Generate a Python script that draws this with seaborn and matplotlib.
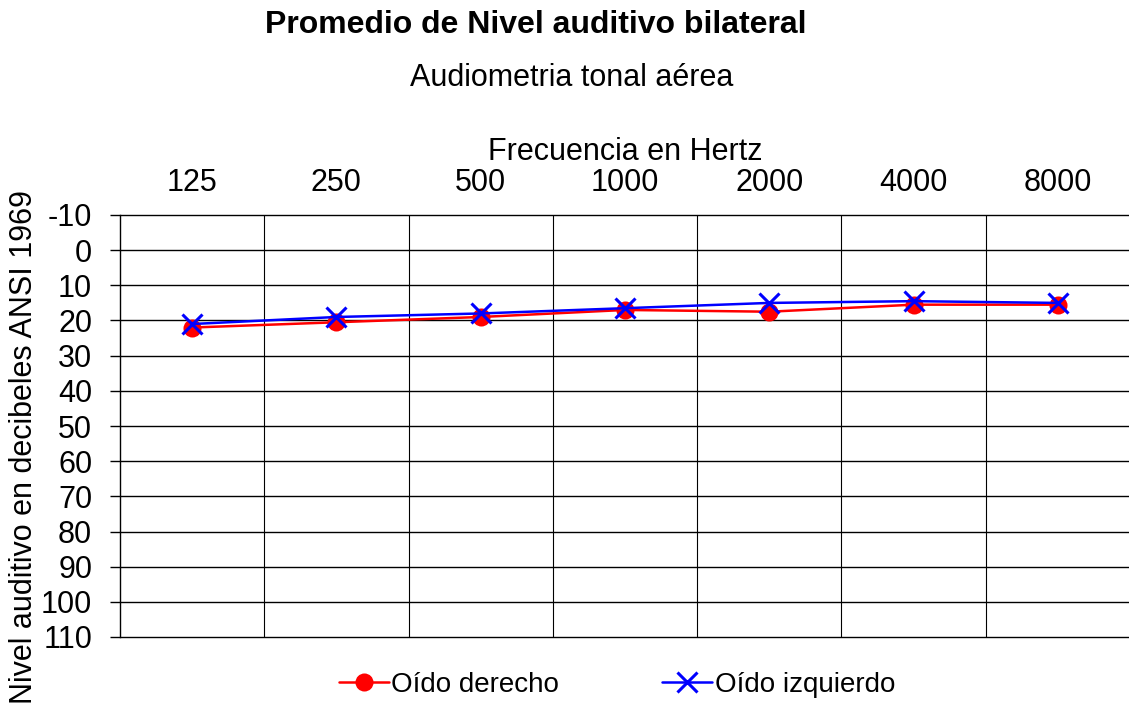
import pandas as pd
import matplotlib.pyplot as plt
import seaborn as sns

# datos
frecuencias = ['125', '250', '500', '1000', '2000', '4000', '8000']
oido_derecho = [22, 20.5, 19, 17, 17.5, 15.5, 15.5]
oido_izquierdo = [21, 19, 18, 16.5, 15, 14.5, 15]
niveles = list(range(-10, 111, 10))

df = pd.DataFrame({'Frecuencia': frecuencias,
                   'Oído derecho': oido_derecho,
                   'Oído izquierdo': oido_izquierdo})

sns.set_style('white')
plt.rcParams['font.family'] = ['Liberation Sans', 'DejaVu Sans']
plt.rcParams['text.color'] = 'black'
plt.rcParams['axes.labelcolor'] = 'black'
plt.rcParams['xtick.color'] = 'black'
plt.rcParams['ytick.color'] = 'black'

fig = plt.figure(figsize=(11.29, 7.04), dpi=100)
ax = fig.add_axes([120 / 1129, 1 - 637 / 704, 1010 / 1129, 422 / 704])

sns.lineplot(data=df, x='Frecuencia', y='Oído derecho', ax=ax, color='#ff0000',
             marker='o', markersize=13, markeredgewidth=0, markeredgecolor='#ff0000',
             linewidth=1.8, label='Oído derecho', sort=False)
sns.lineplot(data=df, x='Frecuencia', y='Oído izquierdo', ax=ax, color='#0000ff',
             marker='x', markersize=14, markeredgewidth=2.2, markeredgecolor='#0000ff',
             linewidth=1.8, label='Oído izquierdo', sort=False)

ax.set_xlim(-0.5, len(frecuencias) - 0.5)
ax.set_ylim(110, -10)
ax.set_yticks(niveles)
ax.set_yticklabels([str(v) for v in niveles], fontsize=22)
ax.set_xticks(range(len(frecuencias)))
ax.set_xticklabels(frecuencias, fontsize=22)
ax.xaxis.tick_top()
ax.xaxis.set_label_position('top')
ax.tick_params(axis='x', length=0, pad=12)
ax.tick_params(axis='y', length=7, width=1, color='black', left=True, pad=13)

# rejilla
for v in niveles:
    ax.axhline(v, color='black', linewidth=1, zorder=0, clip_on=False)
for i in range(len(frecuencias)):
    ax.axvline(i + 0.5, color='black', linewidth=0.8, zorder=0)

for s in ['top', 'right', 'bottom']:
    ax.spines[s].set_visible(False)
ax.spines['left'].set_color('black')
ax.spines['left'].set_linewidth(1)

ax.set_xlabel('Frecuencia en Hertz', fontsize=22, labelpad=6)
ax.set_ylabel('Nivel auditivo en decibeles ANSI 1969', fontsize=22)
ax.yaxis.set_label_coords(-0.08, 0.45)

fig.text(536 / 1129, 1 - 25 / 704, 'Promedio de Nivel auditivo bilateral',
         fontsize=23, fontweight='bold', ha='center', va='center')
fig.text(572 / 1129, 1 - 78 / 704, 'Audiometria tonal aérea',
         fontsize=22, ha='center', va='center')

ax.legend(loc='center', bbox_to_anchor=(617 / 1129, 1 - 685 / 704),
          bbox_transform=fig.transFigure, ncol=2, frameon=False, fontsize=20,
          columnspacing=3.7, handlelength=1.8, handletextpad=0.1)

fig.savefig('out.png', dpi=100)
